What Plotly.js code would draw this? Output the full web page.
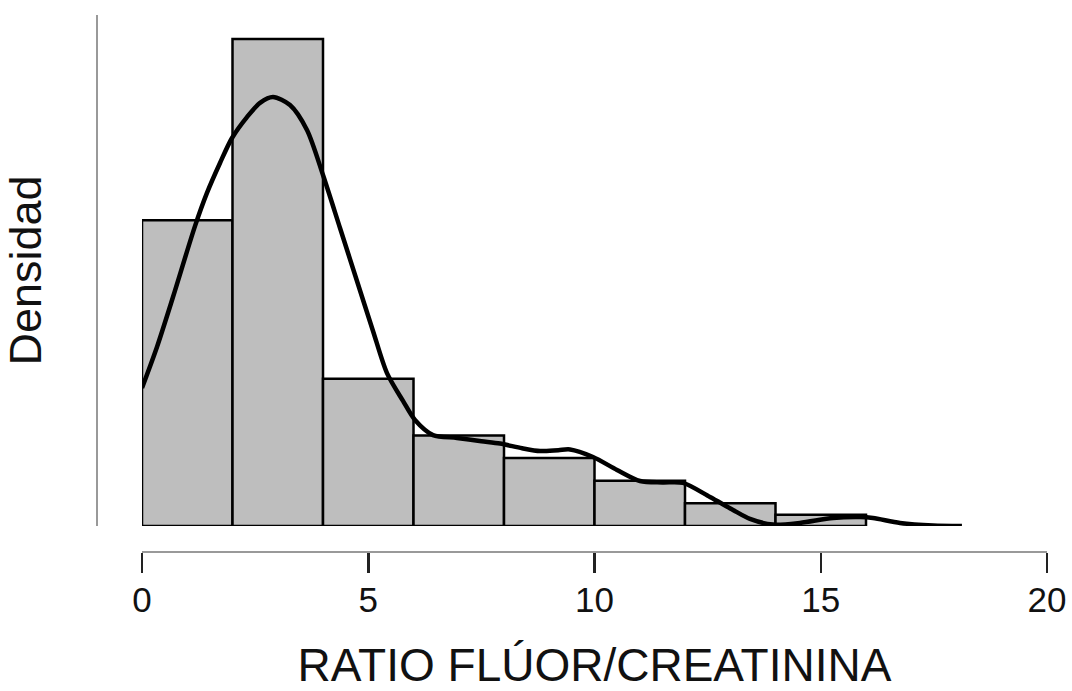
<!DOCTYPE html>
<html>
<head>
<meta charset="utf-8">
<script src="https://cdn.plot.ly/plotly-3.0.1.min.js"></script>
<style>html,body{margin:0;padding:0;background:#fff;}#chart{width:1072px;height:691px;}</style>
</head>
<body>
<div id="chart"></div>
<script>
// Histogram bins (width 2) and counts
const binStarts = [0, 2, 4, 6, 8, 10, 12, 14];
const binWidth = 2;
const counts = [27, 43, 13, 8, 6, 4, 2, 1];

// Density curve
const kdeX = [0, 0.331, 0.685, 1.171, 1.436, 1.724, 1.989, 2.32, 2.608, 2.895, 3.271, 3.646, 4.0, 4.376, 4.751, 5.105, 5.414, 5.768, 6.033, 6.431, 6.961, 7.5, 7.912, 8.4, 8.796, 9.2, 9.459, 9.967, 10.497, 11.006, 11.5, 11.956, 12.552, 13.061, 13.436, 13.945, 14.541, 15.271, 15.867, 16.155, 16.751, 17.481, 18.12];
const kdeY = [0.0586, 0.0760, 0.0972, 0.1273, 0.1414, 0.1541, 0.1647, 0.1736, 0.1796, 0.1821, 0.1787, 0.1681, 0.1490, 0.1265, 0.1040, 0.0828, 0.0649, 0.0531, 0.0450, 0.0386, 0.0374, 0.0360, 0.0350, 0.0330, 0.0318, 0.0322, 0.0325, 0.0293, 0.0238, 0.0191, 0.0185, 0.0183, 0.0123, 0.0068, 0.0030, 0.0006, 0.0013, 0.0034, 0.0038, 0.0034, 0.0013, 0.0002, 0.0];

const xTicks = [0, 5, 10, 15, 20];
const xTitle = 'RATIO FLÚOR/CREATININA';
const yTitle = 'Densidad';

const total = counts.reduce((a, b) => a + b, 0);
const density = counts.map(c => c / (total * binWidth));
const centers = binStarts.map(s => s + binWidth / 2);

const font = 'Liberation Sans, Arial, sans-serif';

const traces = [
  {
    type: 'bar',
    x: centers,
    y: density,
    width: binWidth,
    marker: {color: '#bebebe', line: {color: '#000', width: 2.5}},
    cliponaxis: false,
    hoverinfo: 'x+y'
  },
  {
    type: 'scatter',
    mode: 'lines',
    x: kdeX,
    y: kdeY,
    line: {color: '#000', width: 4.5, shape: 'spline', smoothing: 0.8},
    cliponaxis: false
  }
];

const layout = {
  width: 1072,
  height: 691,
  margin: {l: 97, r: 25, t: 15, b: 139},
  paper_bgcolor: '#fff',
  plot_bgcolor: '#fff',
  showlegend: false,
  bargap: 0,
  font: {family: font, color: '#111'},
  xaxis: {
    domain: [45 / 950, 1],
    range: [0, 20],
    anchor: 'free',
    position: 0,
    tickvals: xTicks,
    ticktext: xTicks.map(String),
    ticks: 'outside',
    ticklen: 20,
    tickwidth: 2.5,
    tickcolor: '#222',
    ticklabelstandoff: -3,
    showline: true,
    linecolor: '#999',
    linewidth: 2,
    showgrid: false,
    zeroline: false,
    tickfont: {family: font, size: 35, color: '#111'},
    title: {text: xTitle, font: {family: font, size: 46, color: '#111'}, standoff: 33}
  },
  yaxis: {
    domain: [26 / 537, 1],
    range: [0, 0.21692],
    anchor: 'free',
    position: 0,
    showline: true,
    linecolor: '#999',
    linewidth: 2,
    ticks: '',
    showticklabels: false,
    showgrid: false,
    zeroline: false,
    title: {text: yTitle, font: {family: font, size: 45, color: '#111'}, standoff: 40}
  }
};

Plotly.newPlot('chart', traces, layout, {displayModeBar: false, staticPlot: true});
</script>
</body>
</html>
